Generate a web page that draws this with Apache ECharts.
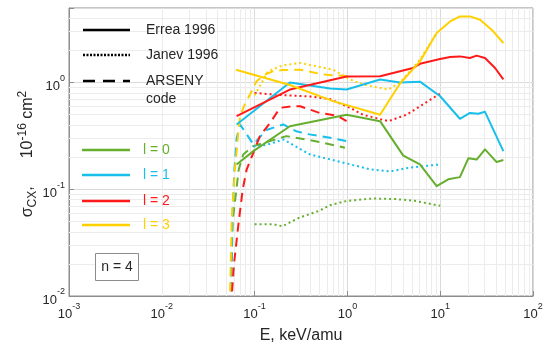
<!DOCTYPE html>
<html><head><meta charset="utf-8">
<script src="https://cdn.jsdelivr.net/npm/echarts@6/dist/echarts.min.js"></script>
<style>html,body{margin:0;padding:0;background:#fff}#c{width:550px;height:348px}</style>
</head><body><div id="c"></div>
<script>
// ---------- tick labels (exponents of 10) ----------
const xTickExps = [-3, -2, -1, 0, 1, 2];
const yTickExps = [-2, -1, 0];

// ---------- data: [E (keV/amu), sigma (1e-16 cm^2)] ----------
// Errea 1996 (solid)
const errea_l0 = [[0.064,0.171],[0.097,0.228],[0.24,0.39],[0.98,0.50],[2.25,0.435],[4.0,0.207],[6.05,0.171],[9.16,0.107],[12.2,0.124],[16.3,0.130],[20.1,0.195],[24.7,0.19],[30.4,0.237],[40.6,0.180],[47.9,0.188]];
const errea_l1 = [[0.064,0.405],[0.24,1.0],[0.65,0.88],[0.98,0.86],[2.25,1.07],[3.69,1.0],[6.05,1.02],[10,0.745],[16.3,0.458],[20.9,0.52],[25.7,0.51],[30.4,0.532],[47.9,0.228]];
const errea_l2 = [[0.064,0.485],[0.24,0.86],[0.98,1.14],[2.25,1.145],[5.1,1.37],[6.05,1.50],[9.95,1.66],[12.8,1.74],[16.3,1.76],[20.9,1.70],[24.7,1.79],[30.4,1.70],[39,1.37],[47.9,1.07]];
const errea_l3 = [[0.063,1.32],[0.24,0.95],[0.7,0.67],[2.25,0.50],[3.69,0.98],[6.05,1.58],[9.16,2.91],[12.8,3.74],[16.3,4.17],[20.9,4.17],[26.9,3.88],[37.3,3.02],[47.9,2.35]];
// Janev 1996 (dotted)
const janev_l0 = [[0.1,0.047],[0.16,0.047],[0.2,0.045],[0.3,0.054],[0.5,0.063],[0.65,0.071],[1.0,0.078],[1.9,0.082],[3.3,0.081],[5.3,0.078],[10,0.070]];
const janev_l1 = [[0.097,0.252],[0.134,0.26],[0.204,0.293],[0.395,0.212],[0.77,0.184],[1.75,0.154],[2.87,0.147],[4.73,0.16],[10,0.171]];
const janev_l2 = [[0.1,0.80],[0.17,0.77],[0.4,0.74],[0.65,0.70],[1.07,0.58],[1.47,0.50],[2.76,0.435],[4.35,0.50],[10,0.79]];
const janev_l3 = [[0.1,0.76],[0.139,1.27],[0.2,1.45],[0.31,1.53],[0.7,1.32],[1.07,1.07],[1.47,0.96],[2.74,0.86],[3.69,1.0],[6.05,1.64],[9.16,2.91]];
// ARSENY code (dashed)
const arseny_l0 = [[0.0548,0.008],[0.0555,0.01],[0.058,0.05],[0.0675,0.154],[0.0755,0.212],[0.097,0.254],[0.146,0.283],[0.22,0.315],[0.36,0.293],[0.55,0.273],[0.94,0.245]];
const arseny_l1 = [[0.0545,0.008],[0.0555,0.01],[0.0575,0.05],[0.0605,0.15],[0.064,0.3],[0.0697,0.405],[0.097,0.264],[0.134,0.36],[0.204,0.405],[0.28,0.35],[0.39,0.327],[0.65,0.304],[0.98,0.283]];
const arseny_l2 = [[0.0555,0.008],[0.0567,0.01],[0.06,0.02],[0.0675,0.05],[0.0745,0.1],[0.0822,0.154],[0.097,0.22],[0.114,0.315],[0.147,0.42],[0.188,0.58],[0.25,0.6],[0.31,0.6],[0.5,0.52],[0.77,0.49],[0.98,0.435]];
const arseny_l3 = [[0.0535,0.008],[0.0543,0.01],[0.0566,0.05],[0.0614,0.154],[0.0666,0.33],[0.0697,0.48],[0.078,0.62],[0.089,0.77],[0.105,1.03],[0.129,1.19],[0.159,1.28],[0.2,1.31],[0.31,1.32],[0.55,1.19],[0.98,1.15]];

const colors = ['#66ae2e', '#17bfea', '#ff1a1a', '#ffd000'];
const legendStyles = ['Errea 1996', 'Janev 1996', 'ARSENY'];
const legendLevels = ['l = 0', 'l = 1', 'l = 2', 'l = 3'];
const boxLabel = 'n = 4';

const FONT = "'Liberation Sans', Arial, Helvetica, sans-serif";
const TXT = '#262626';
const AX = '#8c8c8c';
const DOT = [2, 3];
const DASH = [9, 6];

function expLabel(v, exps) {
  const lg = Math.log10(v);
  const e = Math.round(lg);
  if (Math.abs(lg - e) > 1e-6 || exps.indexOf(e) < 0) return '';
  return '{b|10}{s|' + e + '}';
}
const tickRich = {
  b: { fontSize: 13, fontFamily: FONT, color: TXT, padding: [8, 0, 0, 0] },
  s: { fontSize: 9, fontFamily: FONT, color: TXT, padding: [0, 0, 8, 0] }
};

// minor grid lines (2..9 x 10^k)
const minorLines = [];
for (let d = -3; d <= 1; d++) for (let m = 2; m <= 9; m++) minorLines.push({ xAxis: m * Math.pow(10, d) });
for (let d = -2; d <= 0; d++) for (let m = 2; m <= 9; m++) { const v = m * Math.pow(10, d); if (v < 5) minorLines.push({ yAxis: v }); }

function mk(name, data, color, type) {
  return { name, type: 'line', data, symbol: 'none', showSymbol: false, silent: true, z: 3,
    lineStyle: { color, width: 2, type, cap: 'butt', join: 'round' }, itemStyle: { color } };
}

const series = [
  { type: 'line', data: [], silent: true,
    markLine: { silent: true, z: 1, symbol: ['none', 'none'], label: { show: false },
      lineStyle: { color: '#ececec', width: 1, type: 'solid' }, emphasis: { disabled: true }, animation: false, data: minorLines } },
  mk('ARSENY l=0', arseny_l0, colors[0], DASH),
  mk('ARSENY l=1', arseny_l1, colors[1], DASH),
  mk('ARSENY l=2', arseny_l2, colors[2], DASH),
  mk('ARSENY l=3', arseny_l3, colors[3], DASH),
  mk('Janev l=0', janev_l0, colors[0], DOT),
  mk('Janev l=1', janev_l1, colors[1], DOT),
  mk('Janev l=2', janev_l2, colors[2], DOT),
  mk('Janev l=3', janev_l3, colors[3], DOT),
  mk('Errea l=0', errea_l0, colors[0], 'solid'),
  mk('Errea l=1', errea_l1, colors[1], 'solid'),
  mk('Errea l=2', errea_l2, colors[2], 'solid'),
  mk('Errea l=3', errea_l3, colors[3], 'solid')
];

// legend graphics
const g = [];
const styleY = [30, 55, 81];
const styleDash = [null, [2, 1.5], [12, 8]];
for (let i = 0; i < 3; i++) {
  g.push({ type: 'line', z: 100, shape: { x1: 83, y1: styleY[i], x2: 130, y2: styleY[i] }, silent: true,
    style: { stroke: '#000', lineWidth: 2.5, lineDash: styleDash[i] } });
  g.push({ type: 'text', z: 100, x: 146, y: styleY[i], silent: true,
    style: { text: legendStyles[i], fill: TXT, font: '14px ' + FONT, verticalAlign: 'middle', align: 'left' } });
}
g.push({ type: 'text', z: 100, x: 146, y: 99, silent: true,
  style: { text: 'code', fill: TXT, font: '14px ' + FONT, verticalAlign: 'middle', align: 'left' } });
const lvY = [150, 175, 201, 225];
for (let i = 0; i < 4; i++) {
  g.push({ type: 'line', z: 100, shape: { x1: 82, y1: lvY[i], x2: 130, y2: lvY[i] }, silent: true,
    style: { stroke: colors[i], lineWidth: 2.5 } });
  g.push({ type: 'text', z: 100, x: 143, y: lvY[i], silent: true,
    style: { text: legendLevels[i], fill: colors[i], font: '14px ' + FONT, verticalAlign: 'middle', align: 'left' } });
}
g.push({ type: 'rect', shape: { x: 95.5, y: 253.5, width: 43, height: 27 }, silent: true, z: 100,
  style: { fill: '#fff', stroke: AX, lineWidth: 1 } });
g.push({ type: 'text', x: 117, y: 267, silent: true, z: 101,
  style: { text: boxLabel, fill: TXT, font: '14px ' + FONT, verticalAlign: 'middle', align: 'center' } });
// y axis title
g.push({ type: 'text', z: 100, x: 28, y: 154, rotation: Math.PI / 2, silent: true,
  style: { text: '{a|σ}{sub|CX}{a|,}{gap|}{a|10}{sup|-16}{a| cm}{sup|2}', align: 'center', verticalAlign: 'middle',
    fill: TXT, font: '16px ' + FONT,
    rich: {
      a: { fontSize: 16, fontFamily: FONT, fill: TXT },
      sub: { fontSize: 12, fontFamily: FONT, fill: TXT, padding: [10, 0, 0, 0] },
      sup: { fontSize: 12, fontFamily: FONT, fill: TXT, padding: [0, 0, 10, 0] },
      gap: { width: 28 }
    } } });

const option = {
  animation: false,
  backgroundColor: '#fff',
  grid: { left: 69, right: 17, top: 8, bottom: 52, show: true, borderColor: AX, borderWidth: 1,
    backgroundColor: 'rgba(0,0,0,0)', containLabel: false, outerBoundsMode: 'none' },
  xAxis: {
    type: 'log', logBase: 10, min: 0.001, max: 100,
    axisLine: { show: true, lineStyle: { color: AX, width: 1 } },
    axisTick: { show: true, inside: true, length: 5, lineStyle: { color: AX } },
    axisLabel: { margin: 4, formatter: v => expLabel(v, xTickExps), rich: tickRich, showMinLabel: true, showMaxLabel: true },
    splitLine: { show: true, lineStyle: { color: '#dadada', width: 1 } },
    name: 'E, keV/amu', nameLocation: 'middle', nameGap: 32,
    nameTextStyle: { fontSize: 16, color: TXT, fontFamily: FONT }
  },
  yAxis: {
    type: 'log', logBase: 10, min: 0.01, max: 5,
    axisLine: { show: true, lineStyle: { color: AX, width: 1 } },
    axisTick: { show: true, inside: true, length: 5, lineStyle: { color: AX } },
    axisLabel: { margin: 4, formatter: v => expLabel(v, yTickExps), rich: tickRich, showMinLabel: true, showMaxLabel: true },
    splitLine: { show: true, lineStyle: { color: '#dadada', width: 1 } }
  },
  series,
  graphic: g
};
const chart = echarts.init(document.getElementById('c'), null, { renderer: 'canvas' });
chart.setOption(option);
</script>
</body></html>
